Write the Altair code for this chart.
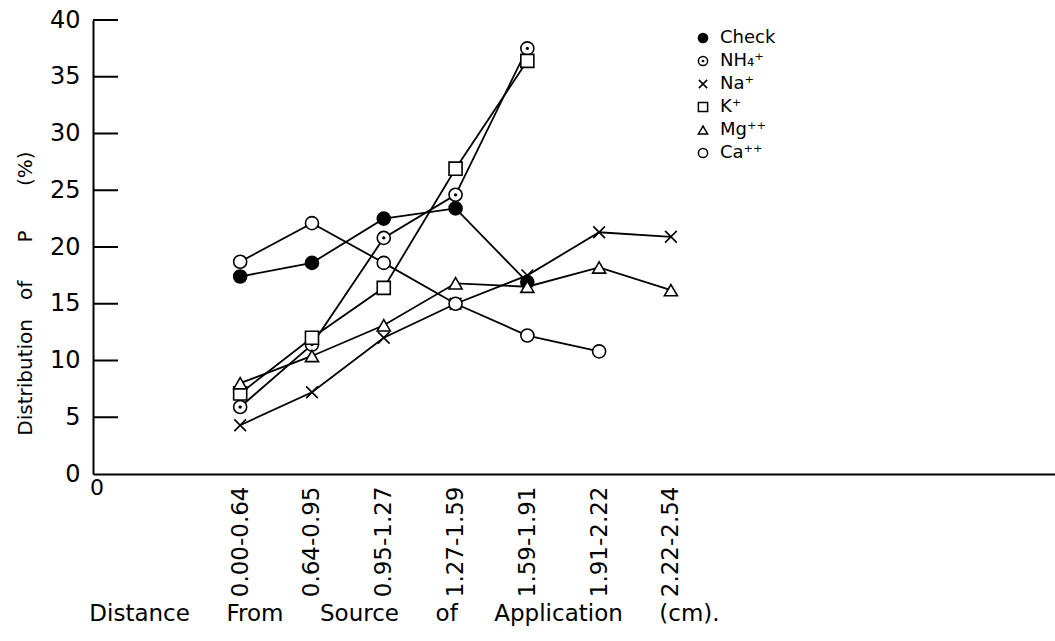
import json
import altair as alt
import pandas as pd

# ---- data ----
categories = ["0.00-0.64", "0.64-0.95", "0.95-1.27", "1.27-1.59",
              "1.59-1.91", "1.91-2.22", "2.22-2.54"]
series_names = ["Check", "NH\u2084\u207a", "Na\u207a", "K\u207a", "Mg\u207a\u207a", "Ca\u207a\u207a"]

check = [17.4, 18.6, 22.5, 23.4, 16.9]
nh4 = [5.9, 11.4, 20.8, 24.6, 37.5]
na = [4.3, 7.2, 12.0, 15.0, 17.5, 21.3, 20.9]
k = [7.1, 12.0, 16.4, 26.9, 36.4]
mg = [8.0, 10.4, 13.1, 16.8, 16.5, 18.2, 16.2]
ca = [18.7, 22.1, 18.6, 15.0, 12.2, 10.8]

y_tick_values = [5, 10, 15, 20, 25, 30, 35, 40]
y_label_values = [0, 5, 10, 15, 20, 25, 30, 35, 40]

rows = []
for name, vals in zip(series_names, [check, nh4, na, k, mg, ca]):
    for i, v in enumerate(vals):
        rows.append({"series": name, "pos": i, "cat": categories[i], "value": v})
df = pd.DataFrame(rows)
ticks_df = pd.DataFrame({"t": y_tick_values})

FONT = "DejaVu Sans"
W, H = 962, 454

circle_dot = ("M-1,0A1,1,0,1,0,1,0A1,1,0,1,0,-1,0Z"
              "M-0.13,0A0.13,0.13,0,1,0,0.13,0A0.13,0.13,0,1,0,-0.13,0Z")
x_path = "M-0.9,-0.9L0.9,0.9M-0.9,0.9L0.9,-0.9"
shape_range = ["circle", circle_dot, x_path, "square", "triangle-up", "circle"]
fill_range = ["black", "white", "white", "white", "white", "white"]
stroke_range = ["black"] * 6

xscale = alt.Scale(domain=[-2.05, 11.35], nice=False, zero=False)
yscale = alt.Scale(domain=[0, 40], nice=False, zero=True)

label_expr = json.dumps(categories) + "[datum.value]"

NB = "\u00a0"
y_title = "Distribution" + NB * 3 + "of" + NB * 6 + "P" + NB * 7 + "(%)"
x_title = ("Distance" + NB * 5 + "From" + NB * 5 + "Source" + NB * 5 + "of"
           + NB * 5 + "Application" + NB * 5 + "(cm).")

legend = alt.Legend(title=None, orient="none", legendX=601, legendY=9,
                    labelFontSize=18, labelFont=FONT, labelColor="black",
                    symbolSize=85, symbolStrokeWidth=1.5, rowPadding=5,
                    labelOffset=8)

base = alt.Chart(df)

lines = base.mark_line(color="black", strokeWidth=1.8).encode(
    x=alt.X("pos:Q", scale=xscale,
            axis=alt.Axis(values=list(range(len(categories))), labelExpr=label_expr,
                          labelAngle=270, labelAlign="right", labelBaseline="middle",
                          labelPadding=12, labelFontSize=23, labelFont=FONT,
                          labelColor="black", ticks=False, grid=False,
                          domainColor="black", domainWidth=2,
                          labelOverlap=False, labelFlush=False, labelBound=False,
                          title=x_title, titleFont=FONT, titleFontSize=23,
                          titleFontWeight="normal", titleColor="black",
                          titleX=311, titleY=139, titleAlign="center",
                          titleBaseline="middle")),
    y=alt.Y("value:Q", scale=yscale,
            axis=alt.Axis(values=y_label_values, labelFontSize=24, labelFont=FONT,
                          labelColor="black", labelPadding=13, ticks=False, grid=False,
                          domainColor="black", domainWidth=2,
                          labelOverlap=False, labelFlush=False,
                          title=y_title, titleFont=FONT, titleFontSize=20,
                          titleFontWeight="normal", titleColor="black",
                          titleAngle=270, titleX=-68, titleY=273,
                          titleAlign="center", titleBaseline="middle")),
    detail="series:N",
)

points = base.mark_point(filled=True, strokeWidth=1.6,
                         opacity=1, fillOpacity=1, size=170).encode(
    x=alt.X("pos:Q", scale=xscale),
    y=alt.Y("value:Q", scale=yscale),
    shape=alt.Shape("series:N", sort=series_names,
                    scale=alt.Scale(domain=series_names, range=shape_range),
                    legend=legend),
    fill=alt.Fill("series:N", sort=series_names,
                  scale=alt.Scale(domain=series_names, range=fill_range),
                  legend=legend),
    stroke=alt.Stroke("series:N", sort=series_names,
                      scale=alt.Scale(domain=series_names, range=stroke_range),
                      legend=legend),
)

yticks = alt.Chart(ticks_df).mark_rule(color="black", strokeWidth=2).encode(
    y=alt.Y("t:Q", scale=yscale),
    x=alt.value(0),
    x2=alt.value(25),
)

origin_label = alt.Chart(pd.DataFrame({"lab": ["0"]})).mark_text(
    font=FONT, fontSize=22, color="black", align="center", baseline="top"
).encode(text="lab:N", x=alt.value(4), y=alt.value(H + 4))

chart = alt.layer(lines, yticks, points, origin_label).properties(
    width=W, height=H,
    autosize=alt.AutoSizeParams(type="none"),
    padding={"left": 93, "top": 20, "right": 0, "bottom": 167},
    background="white",
).configure_view(stroke=None)

chart.save("out.html", embed_options={"renderer": "svg", "actions": False})
